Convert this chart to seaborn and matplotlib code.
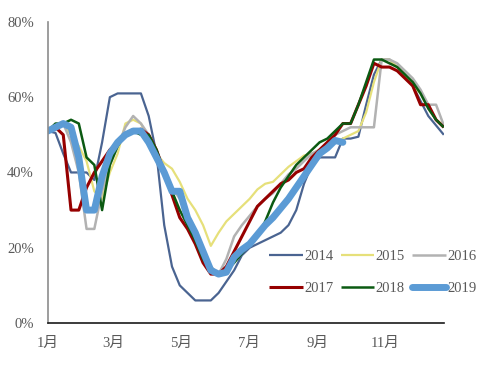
import pandas as pd
import matplotlib.pyplot as plt
import matplotlib.dates as mdates
import seaborn as sns

# weekly readings (%), one point per week from 1 Jan
years = ['2014', '2015', '2016', '2017', '2018', '2019']
colors = ['#4A6491', '#E6E07A', '#B2B2B2', '#960000', '#0B5A12', '#5B9BD5']
widths = [1.6, 1.6, 1.8, 2.2, 1.8, 5.0]

v2014 = [51, 50.5, 45, 40, 40, 40, 38, 48, 60, 61, 61, 61, 61, 55, 45, 26,
         15, 10, 8, 6, 6, 6, 8, 11, 14, 18, 20, 21, 22, 23, 24, 26,
         30, 37, 42, 44, 44, 44, 49, 49, 49.5, 58, 66, 70, 70, 68, 66, 63,
         59, 55, 52.5, 50]
v2015 = [51, 52, 53, 50, 47, 43, 35, 33, 40, 45, 53, 54, 53, 49, 45, 42.5,
         41, 37.5, 33, 30, 26, 20.5, 24, 27, 29, 31, 33, 35.5, 37, 37.5, 39.5, 41.5,
         43, 44.5, 45, 46, 47, 48, 49, 50, 51, 56, 64, 70, 70, 68, 66, 63,
         61, 57, 54, 52.5]
v2016 = [51, 52, 53, 48, 40, 25, 25, 35, 42, 47, 52, 55, 53, 50, 46, 41,
         36, 33, 28, 24, 19, 15, 13, 17, 23, 26, 28.5, 31, 33, 34.5, 37, 39.5,
         41, 43, 45, 46, 48, 50, 51, 52, 52, 52, 52, 70, 70, 69, 67, 65,
         62, 58, 58, 52.5]
v2017 = [51, 52, 50, 30, 30, 36, 40, 43, 46, 48, 50, 51, 51.5, 50, 46, 40,
         34, 28, 25, 21, 16, 13, 13, 15, 19, 23, 27, 31, 33, 35, 37, 38,
         40, 41, 44, 46, 48, 50, 53, 53, 58, 63, 69, 68, 68, 67, 65, 63,
         58, 58, 54, 52]
v2018 = [51, 53, 53, 54, 53, 44, 42, 30, 42, 47, 50, 51, 50, 50, 46, 40,
         35, 30, 26, 22, 17, 14, 13, 14, 16, 18.5, 21, 23, 27, 32, 36, 39,
         42, 44, 46, 48, 49, 51, 53, 53, 58, 64, 70, 70, 69, 68, 66, 64,
         61, 57, 54, 52]
v2019 = [51, 52, 53, 52, 44, 30, 30, 39, 45, 48, 50, 51, 51, 48, 44, 40,
         35, 35, 28, 24, 19, 14, 13, 13.5, 17.5, 19.5, 21, 23.5, 26, 28, 30.5, 33,
         36, 39, 42, 45, 46.5, 48.5, 48]
series = [v2014, v2015, v2016, v2017, v2018, v2019]

month_ticks = ['1月', '3月', '5月', '7月', '9月', '11月']
y_ticks = [0, 20, 40, 60, 80]

dates = pd.date_range('2019-01-01', periods=52, freq='7D')

sns.set_style('white')
plt.rcParams['font.family'] = ['Liberation Serif', 'Noto Sans CJK SC']

fig = plt.figure(figsize=(4.84, 3.65), dpi=100)
ax = fig.add_axes([0.0986, 0.115, 0.8184, 0.825])

for name, vals, c, lw in zip(years, series, colors, widths):
    df = pd.DataFrame({'date': dates[:len(vals)], 'val': vals})
    sns.lineplot(data=df, x='date', y='val', ax=ax, color=c, linewidth=lw,
                 label=name, solid_capstyle='round' if name == '2019' else 'butt')

ax.set_xlim(pd.Timestamp('2019-01-01'), pd.Timestamp('2019-12-24'))
ax.set_ylim(0, 80)
tick_dates = pd.to_datetime(['2019-01-01', '2019-03-01', '2019-05-01',
                             '2019-07-01', '2019-09-01', '2019-11-01'])
ax.set_xticks(mdates.date2num(tick_dates))
ax.set_xticklabels(month_ticks)
ax.set_yticks(y_ticks)
ax.set_yticklabels([f'{t}%' for t in y_ticks])
ax.set_xlabel('')
ax.set_ylabel('')

for s in ['top', 'right']:
    ax.spines[s].set_visible(False)
ax.spines['left'].set_color('#8C8C8C')
ax.spines['left'].set_linewidth(1.2)
ax.spines['bottom'].set_color('#1A1A1A')
ax.spines['bottom'].set_linewidth(1.2)
ax.tick_params(axis='both', which='both', direction='out', length=4,
               labelsize=10.5, labelcolor='#595959')
ax.tick_params(axis='y', color='#8C8C8C', pad=6)
ax.tick_params(axis='x', color='#1A1A1A', pad=6)

# legend filled row by row: 2014 2015 2016 / 2017 2018 2019
handles, labels = ax.get_legend_handles_labels()
order = [0, 3, 1, 4, 2, 5]
ax.legend([handles[i] for i in order], [labels[i] for i in order],
          loc='upper left', bbox_to_anchor=(262 / 484, 1 - 243 / 365),
          bbox_transform=fig.transFigure, ncol=3, frameon=False,
          fontsize=10.5, handlelength=2.3, handletextpad=0.1,
          columnspacing=0.5, labelspacing=1.25, borderpad=0,
          labelcolor='#595959')

fig.savefig('out.png', dpi=100)
